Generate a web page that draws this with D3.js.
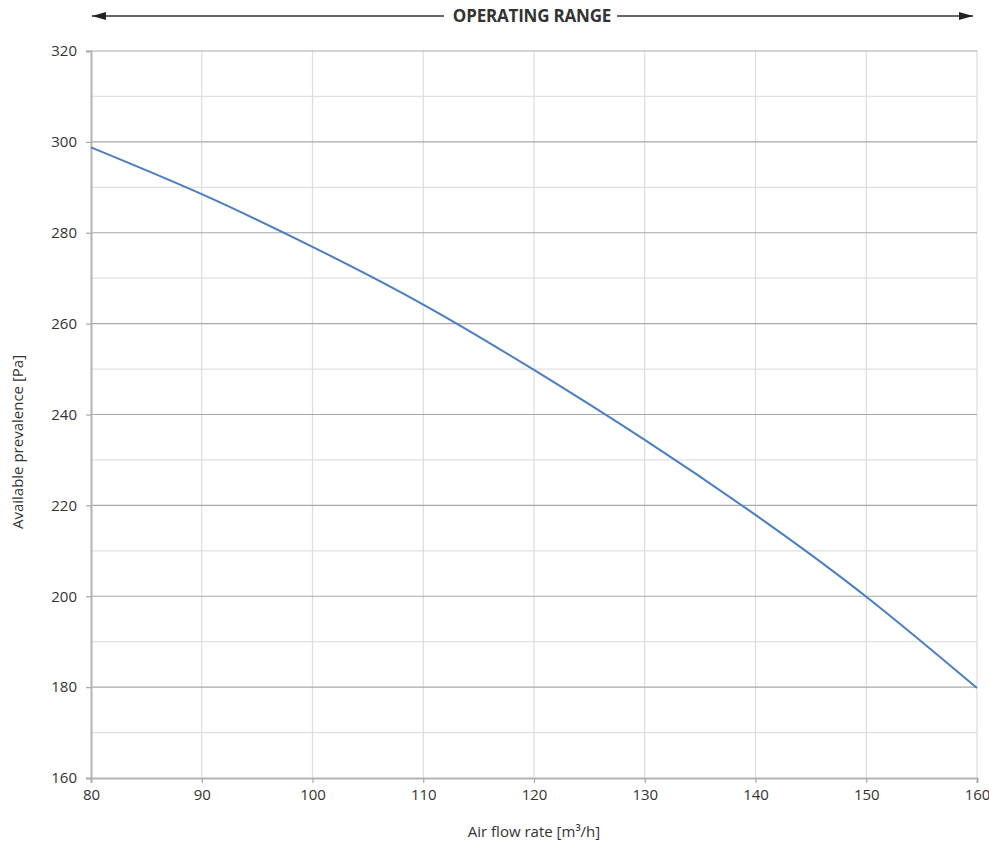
<!DOCTYPE html>
<html>
<head>
<meta charset="utf-8">
<script src="https://cdn.jsdelivr.net/npm/d3@7"></script>
<style>
  body { margin: 0; background: #fff; }
  svg text { font-family: "Open Sans", sans-serif; fill: #333; }
</style>
</head>
<body>
<svg id="chart" width="989" height="843"></svg>
<script>
// values
const flowRates = [80, 90, 100, 110, 120, 130, 140, 150, 160];
const pressures = [298.8, 288.5, 276.9, 264.2, 249.8, 234.4, 217.9, 199.9, 179.8];
const xTicks = [80, 90, 100, 110, 120, 130, 140, 150, 160];
const yTicks = [160, 180, 200, 220, 240, 260, 280, 300, 320];
const yMinor = [170, 190, 210, 230, 250, 270, 290, 310];

const margin = {top: 51, right: 12, bottom: 65, left: 91};
const width = 989, height = 843;
const svg = d3.select("#chart");

const x = d3.scaleLinear().domain([80, 160]).range([margin.left, width - margin.right]);
const y = d3.scaleLinear().domain([160, 320]).range([height - margin.bottom, margin.top]);

let data = flowRates.map((f, i) => ({f: f, p: pressures[i]}));

// grid
svg.append("g").selectAll("line").data(yMinor).join("line")
    .attr("x1", x(80)).attr("x2", x(160))
    .attr("y1", d => y(d)).attr("y2", d => y(d))
    .attr("stroke", "#e0e0e0").attr("stroke-width", 1.2);
svg.append("g").selectAll("line").data(xTicks.slice(1)).join("line")
    .attr("x1", d => x(d)).attr("x2", d => x(d))
    .attr("y1", y(160)).attr("y2", y(320))
    .attr("stroke", "#dcdcdc").attr("stroke-width", 1.2);
svg.append("g").selectAll("line").data(yTicks.slice(1)).join("line")
    .attr("x1", x(80)).attr("x2", x(160))
    .attr("y1", d => y(d)).attr("y2", d => y(d))
    .attr("stroke", "#a8a8a8").attr("stroke-width", 1.2);

// axes
const xAxis = svg.append("g")
    .attr("transform", `translate(0,${y(160)})`)
    .call(d3.axisBottom(x).tickValues(xTicks).tickSize(5).tickPadding(6));
const yAxis = svg.append("g")
    .attr("transform", `translate(${x(80)},0)`)
    .call(d3.axisLeft(y).tickValues(yTicks).tickSize(5).tickPadding(9));
[xAxis, yAxis].forEach(g => {
    g.select(".domain").attr("stroke", "#b4b4b4").attr("stroke-width", 2);
    g.selectAll(".tick line").attr("stroke", "#a8a8a8").attr("stroke-width", 1.2);
    g.selectAll(".tick text").attr("font-size", 15).attr("fill", "#333")
        .style("font-family", "'Open Sans', sans-serif");
});

// curve
svg.append("path")
    .datum(data)
    .attr("fill", "none")
    .attr("stroke", "#4a7ec4")
    .attr("stroke-width", 2)
    .attr("d", d3.line().x(d => x(d.f)).y(d => y(d.p)).curve(d3.curveNatural));

// axis titles
svg.append("text")
    .attr("x", (x(80) + x(160)) / 2).attr("y", 837)
    .attr("text-anchor", "middle").attr("font-size", 15)
    .text("Air flow rate [m³/h]");
svg.append("text")
    .attr("transform", `translate(23,442) rotate(-90)`)
    .attr("text-anchor", "middle").attr("font-size", 15)
    .text("Available prevalence [Pa]");

// operating range arrow
const ay = 16;
svg.append("defs").append("marker")
    .attr("id", "head")
    .attr("viewBox", "0 0 14 8")
    .attr("refX", 14).attr("refY", 4)
    .attr("markerWidth", 14).attr("markerHeight", 8)
    .attr("markerUnits", "userSpaceOnUse")
    .attr("orient", "auto")
  .append("path").attr("d", "M0,0L14,4L0,8Z").attr("fill", "#222");
svg.append("line")
    .attr("x1", 444).attr("x2", 92).attr("y1", ay).attr("y2", ay)
    .attr("stroke", "#333").attr("stroke-width", 1.5).attr("marker-end", "url(#head)");
svg.append("line")
    .attr("x1", 617).attr("x2", 973).attr("y1", ay).attr("y2", ay)
    .attr("stroke", "#333").attr("stroke-width", 1.5).attr("marker-end", "url(#head)");
svg.append("text")
    .attr("x", 532).attr("y", ay + 6)
    .attr("text-anchor", "middle").attr("font-size", 17).attr("font-weight", "bold")
    .attr("fill", "#222").attr("letter-spacing", -0.2)
    .text("OPERATING RANGE");
</script>
</body>
</html>
